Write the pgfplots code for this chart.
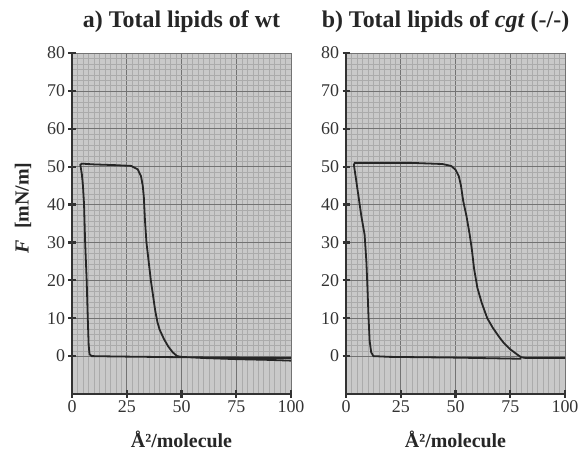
\documentclass[border=0pt]{standalone}
\usepackage{pgfplots}
\pgfplotsset{compat=1.18}
\usepackage{fontspec}
\setmainfont{Liberation Serif}
\pgfplotsset{lipid/.style={
  scale only axis, width=219bp, height=341bp,
  xmin=0, xmax=100, ymin=-10, ymax=80,
  axis x line*=bottom, axis y line*=left,
  axis line style={line width=2.5bp, black!80},
  xtick={0,25,50,75,100}, ytick={0,10,...,80},
  tick align=center, major tick length=7bp,
  tick style={line width=2.2bp, black!80},
  minor tick length=0pt,
  minor x tick num=9, minor y tick num=6,
  grid=both, clip=false,
  minor grid style={black!33, line width=0.3bp},
  major grid style={black!55, line width=0.7bp},
  axis background/.style={fill=black!21},
  ticklabel style={font=\fontsize{18}{20}\selectfont, text=black!80},
  /pgf/number format/assume math mode=true,
  title style={at={(0.5,1)}, anchor=base, yshift=20bp, font=\fontsize{24}{26}\selectfont\bfseries, text=black!85},
  xlabel style={at={(axis description cs:0.5,0)}, anchor=base, yshift=-53bp, font=\fontsize{20}{22}\selectfont\bfseries, text=black!85},
}}
\begin{document}
\begin{tikzpicture}
\path[use as bounding box] (0,0) rectangle (580bp,450bp);
\begin{axis}[lipid, at={(72bp,56bp)}, anchor=south west,
  title={a) Total lipids of wt},
  xlabel={Å²/molecule},
  ylabel={\textbf{\textit{F}\,\, [mN/m]}},
  ylabel style={at={(axis description cs:-0.224,0.545)}, anchor=center, rotate=0, font=\fontsize{20}{22}\selectfont, text=black!85}]
\addplot[black!85, line width=1.8bp, mark=none] coordinates {(100,-1.2) (90,-1.0) (75,-0.8) (60,-0.5) (50,-0.2) (48,0) (46,1) (44,2.5) (42,4.5) (40,7) (39,9) (38,12) (37,16) (36,20) (35,25) (34,30) (33.3,36) (32.8,42) (32.3,45) (31.5,47.5) (30,49.3) (27,50.2) (20,50.4) (10,50.6) (4.5,50.8) (3.8,50.5) (4.5,48) (5,45) (5.5,40) (6,30) (6.7,20) (7.2,10) (7.6,3) (8,0.5) (9,0) (20,-0.1) (50,-0.3) (75,-0.4) (100,-0.5)};
\draw[line width=2.5bp, black!80, line cap=rect] (axis cs:0,80) -- (axis cs:0,-10) -- (axis cs:100,-10);
\end{axis}
\begin{axis}[lipid, at={(346bp,56bp)}, anchor=south west,
  title={b) Total lipids of \textit{cgt} (-/-)},
  title style={xshift=-10bp},
  xlabel={Å²/molecule}]
\addplot[black!85, line width=1.8bp, mark=none] coordinates {(100,-0.5) (90,-0.5) (82,-0.5) (80,-0.3) (78,0.5) (75,1.8) (72,3.5) (70,5) (67,7.5) (64.5,10) (62,14) (60,18) (58.5,23) (57.5,28) (56.5,32) (55,37) (53.5,41) (52.5,45) (51.5,47.5) (50,49.2) (48,50.2) (44,50.7) (30,51) (15,51) (4,51) (3.6,50.5) (4.5,47) (5.5,43) (7,37) (8.5,32) (9.3,25) (9.8,18) (10.3,10) (10.8,4) (11.5,1) (12.5,0) (20,-0.2) (50,-0.4) (80,-0.7)};
\draw[line width=2.5bp, black!80, line cap=rect] (axis cs:0,80) -- (axis cs:0,-10) -- (axis cs:100,-10);
\end{axis}
\end{tikzpicture}
\end{document}
